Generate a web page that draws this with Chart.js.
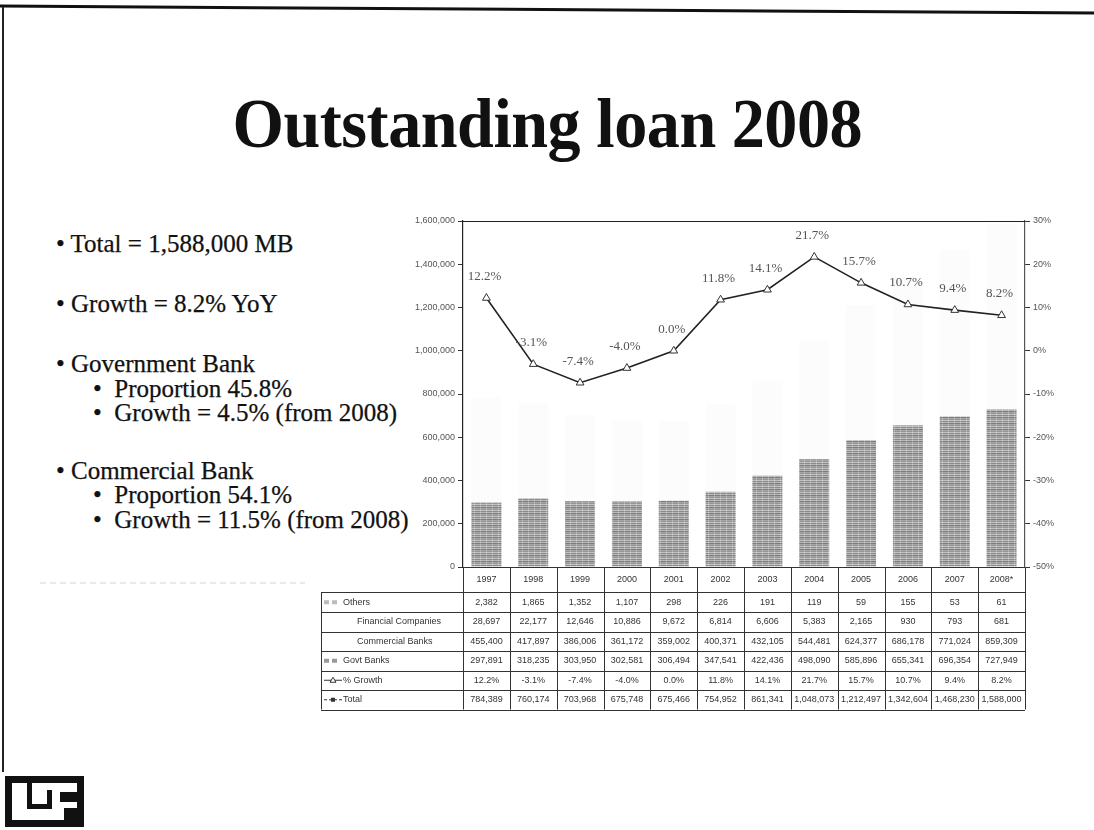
<!DOCTYPE html>
<html>
<head>
<meta charset="utf-8">
<script src="https://cdn.jsdelivr.net/npm/chart.js@4.4.1/dist/chart.umd.min.js"></script>
<style>
  body { margin: 0; width: 1094px; height: 830px; background: #fff; position: relative; overflow: hidden; font-family: 'Liberation Serif', 'Times New Roman', serif; }
  #deco { position: absolute; left: 0; top: 0; }
  h1 { position: absolute; left: 0; width: 1094px; top: 84px; margin: 0; text-align: center; font-size: 70px; font-weight: bold; color: #111; transform: scaleX(0.945); transform-origin: 553px 0; letter-spacing: -0.5px; }
  .pt { position: absolute; font-size: 25px; color: #111; white-space: nowrap; -webkit-text-stroke: 0.25px #111; }
  #wrap { position: absolute; left: 310px; top: 175px; width: 770px; height: 555px; }
</style>
</head>
<body>
<svg id="deco" width="1094" height="830">
  <line x1="0" y1="6" x2="1094" y2="13" stroke="#111" stroke-width="3"/>
  <line x1="3" y1="7" x2="3" y2="772" stroke="#222" stroke-width="2"/>
  <line x1="40" y1="583" x2="305" y2="583" stroke="#d4d4d4" stroke-width="1" stroke-dasharray="6 4"/>
  <!-- LF logo -->
  <rect x="5" y="776" width="79" height="51" fill="#111"/>
  <rect x="12" y="783" width="65" height="37" fill="#fff"/>
  <rect x="27" y="783" width="5" height="25" fill="#111"/>
  <rect x="27" y="804" width="24" height="5" fill="#111"/>
  <rect x="47" y="790" width="5" height="19" fill="#111"/>
  <rect x="60" y="792" width="17" height="10" fill="#111"/>
  <rect x="64" y="808" width="13" height="12" fill="#111"/>
</svg>

<h1>Outstanding loan 2008</h1>

<div class="pt" style="left:56px;top:230px">• Total = 1,588,000 MB</div>
<div class="pt" style="left:56px;top:290px">• Growth = 8.2% YoY</div>
<div class="pt" style="left:56px;top:350px">• Government Bank</div>
<div class="pt" style="left:93px;top:375px">•&nbsp; Proportion 45.8%</div>
<div class="pt" style="left:93px;top:399px">•&nbsp; Growth = 4.5% (from 2008)</div>
<div class="pt" style="left:56px;top:457px">• Commercial Bank</div>
<div class="pt" style="left:93px;top:481px">•&nbsp; Proportion 54.1%</div>
<div class="pt" style="left:93px;top:506px">•&nbsp; Growth = 11.5% (from 2008)</div>

<div id="wrap"><canvas id="loanChart"></canvas></div>

<script>
// Outstanding loans by lender type (million baht)
const years = ['1997', '1998', '1999', '2000', '2001', '2002', '2003', '2004', '2005', '2006', '2007', '2008*'];
const govtBanks = [297891, 318235, 303950, 302581, 306494, 347541, 422436, 498090, 585896, 655341, 696354, 727949];
const commercialBanks = [455400, 417897, 386006, 361172, 359002, 400371, 432105, 544481, 624377, 686178, 771024, 859309];
const financeCompanies = [28697, 22177, 12646, 10886, 9672, 6814, 6606, 5383, 2165, 930, 793, 681];
const others = [2382, 1865, 1352, 1107, 298, 226, 191, 119, 59, 155, 53, 61];
const growth = [12.2, -3.1, -7.4, -4.0, 0.0, 11.8, 14.1, 21.7, 15.7, 10.7, 9.4, 8.2];
const totals = [784389, 760174, 703968, 675748, 675466, 754952, 861341, 1048073, 1212497, 1342604, 1468230, 1588000];
const leftTicks = { min: 0, max: 1600000, step: 200000 };
const rightTicks = { min: -50, max: 30, step: 10 };

// streaky grey fill like the printed bars
function stripePattern() {
  const c = document.createElement('canvas');
  c.width = 6; c.height = 6;
  const g = c.getContext('2d');
  const rows = ['#8a8a8a', '#b9b9b9', '#7c7c7c', '#a6a6a6', '#959595', '#c2c2c2'];
  rows.forEach((col, i) => { g.fillStyle = col; g.fillRect(0, i, 6, 1); });
  g.fillStyle = 'rgba(255,255,255,0.25)';
  g.fillRect(2, 0, 1, 6);
  return g.createPattern(c, 'repeat');
}

const fmtNum = v => v.toLocaleString('en-US');
const fmtPct = v => v.toFixed(1) + '%';

const growthLabels = {
  id: 'growthLabels',
  afterDatasetsDraw(chart) {
    const meta = chart.getDatasetMeta(0);
    const ctx = chart.ctx;
    ctx.save();
    ctx.font = '13px "Liberation Serif", serif';
    ctx.fillStyle = '#555';
    ctx.textAlign = 'center';
    ctx.textBaseline = 'bottom';
    meta.data.forEach((p, i) => {
      ctx.fillText(fmtPct(growth[i]), p.x - 2, p.y - 15);
    });
    ctx.restore();
  }
};

const frameTop = {
  id: 'frameTop',
  afterDraw(chart) {
    const { ctx, chartArea: a } = chart;
    ctx.save();
    ctx.strokeStyle = '#222';
    ctx.lineWidth = 1.2;
    ctx.beginPath();
    ctx.moveTo(a.left, Math.round(a.top) + 0.5);
    ctx.lineTo(a.right, Math.round(a.top) + 0.5);
    ctx.stroke();
    ctx.restore();
  }
};

// data table under the plot, columns follow the category scale
const dataTable = {
  id: 'dataTable',
  afterDraw(chart) {
    const { ctx, chartArea: a, scales: { x } } = chart;
    const cw = (a.right - a.left) / years.length;
    const labelLeft = a.left - 142;
    const headTop = Math.round(a.bottom) + 0.5;
    const headH = 25, rowH = 19.5;
    const rows = [
      { name: 'Others', vals: others, fmt: fmtNum, key: 'hatch' },
      { name: 'Financial Companies', vals: financeCompanies, fmt: fmtNum, indent: true },
      { name: 'Commercial Banks', vals: commercialBanks, fmt: fmtNum, indent: true },
      { name: 'Govt Banks', vals: govtBanks, fmt: fmtNum, key: 'box' },
      { name: '% Growth', vals: growth, fmt: fmtPct, key: 'tri' },
      { name: 'Total', vals: totals, fmt: fmtNum, key: 'dot' }
    ];
    const bodyTop = headTop + headH;
    const bodyBottom = bodyTop + rows.length * rowH;

    ctx.save();
    ctx.strokeStyle = '#333';
    ctx.lineWidth = 1;
    ctx.font = '9px "Liberation Sans", Arial, sans-serif';
    ctx.fillStyle = '#333';
    ctx.textBaseline = 'middle';

    // grid of the table
    ctx.beginPath();
    ctx.moveTo(a.left, headTop); ctx.lineTo(a.right, headTop);
    ctx.moveTo(labelLeft, bodyTop); ctx.lineTo(a.right, bodyTop);
    for (let i = 0; i <= years.length; i++) {
      const xx = Math.round(a.left + i * cw) + 0.5;
      ctx.moveTo(xx, headTop); ctx.lineTo(xx, bodyBottom);
    }
    ctx.moveTo(labelLeft + 0.5, bodyTop); ctx.lineTo(labelLeft + 0.5, bodyBottom);
    rows.forEach((r, j) => {
      const yy = Math.round(bodyTop + (j + 1) * rowH) + 0.5;
      ctx.moveTo(labelLeft, yy); ctx.lineTo(a.right, yy);
    });
    ctx.stroke();

    ctx.textAlign = 'center';
    years.forEach((yr, i) => {
      ctx.fillText(yr, x.getPixelForValue(i), headTop + headH / 2);
    });

    rows.forEach((r, j) => {
      const cy = bodyTop + j * rowH + rowH / 2;
      r.vals.forEach((v, i) => {
        ctx.textAlign = 'center';
        ctx.fillText(r.fmt(v), x.getPixelForValue(i), cy);
      });
      ctx.textAlign = 'left';
      ctx.fillText(r.name, labelLeft + (r.indent ? 36 : 22), cy);
      // legend keys
      const kx = labelLeft + 3;
      if (r.key === 'hatch' || r.key === 'box') {
        ctx.fillStyle = r.key === 'box' ? '#999' : '#bbb';
        ctx.fillRect(kx, cy - 2, 5, 4);
        ctx.fillRect(kx + 8, cy - 2, 5, 4);
        ctx.fillStyle = '#333';
      } else if (r.key === 'tri') {
        ctx.beginPath();
        ctx.moveTo(kx, cy); ctx.lineTo(kx + 18, cy);
        ctx.stroke();
        ctx.fillStyle = '#fff';
        ctx.beginPath();
        ctx.moveTo(kx + 9, cy - 3); ctx.lineTo(kx + 12, cy + 2); ctx.lineTo(kx + 6, cy + 2); ctx.closePath();
        ctx.fill(); ctx.stroke();
        ctx.fillStyle = '#333';
      } else if (r.key === 'dot') {
        ctx.setLineDash([3, 2]);
        ctx.beginPath();
        ctx.moveTo(kx, cy); ctx.lineTo(kx + 18, cy);
        ctx.stroke();
        ctx.setLineDash([]);
        ctx.fillRect(kx + 7, cy - 2, 4, 4);
      }
    });
    ctx.restore();
  }
};

const faint = 'rgba(170,170,170,0.035)';

new Chart(document.getElementById('loanChart'), {
  data: {
    labels: years,
    datasets: [
      {
        type: 'line', label: '% Growth', data: growth, yAxisID: 'y1', order: 0,
        borderColor: '#222', borderWidth: 1.6, tension: 0,
        pointStyle: 'triangle', pointRadius: 4.5, pointBackgroundColor: '#fff',
        pointBorderColor: '#333', pointBorderWidth: 1
      },
      { type: 'bar', label: 'Govt Banks', data: govtBanks, yAxisID: 'y', order: 1, backgroundColor: stripePattern(), stack: 'loans' },
      { type: 'bar', label: 'Commercial Banks', data: commercialBanks, yAxisID: 'y', order: 1, backgroundColor: faint, stack: 'loans' },
      { type: 'bar', label: 'Financial Companies', data: financeCompanies, yAxisID: 'y', order: 1, backgroundColor: faint, stack: 'loans' },
      { type: 'bar', label: 'Others', data: others, yAxisID: 'y', order: 1, backgroundColor: faint, stack: 'loans' }
    ]
  },
  options: {
    responsive: true,
    maintainAspectRatio: false,
    animation: false,
    devicePixelRatio: 1,
    layout: { padding: { left: 0, right: 0, top: 46, bottom: 163 } },
    datasets: { bar: { barPercentage: 0.64, categoryPercentage: 1 } },
    plugins: { legend: { display: false }, tooltip: { enabled: false } },
    scales: {
      x: { display: false, stacked: true, offset: true },
      y: {
        position: 'left', stacked: true,
        min: leftTicks.min, max: leftTicks.max,
        afterFit(s) { s.width = 153; },
        ticks: { stepSize: leftTicks.step, padding: 3, color: '#555', font: { family: 'Liberation Sans', size: 9 }, callback: v => fmtNum(v) },
        grid: { drawOnChartArea: false, drawTicks: true, tickLength: 5, color: '#333' },
        border: { display: true, color: '#222', width: 1.2 }
      },
      y1: {
        position: 'right',
        min: rightTicks.min, max: rightTicks.max,
        afterFit(s) { s.width = 55; },
        ticks: { stepSize: rightTicks.step, padding: 3, color: '#555', font: { family: 'Liberation Sans', size: 9 }, callback: v => v + '%' },
        grid: { drawOnChartArea: false, drawTicks: true, tickLength: 5, color: '#333' },
        border: { display: true, color: '#555', width: 1.2 }
      }
    }
  },
  plugins: [growthLabels, frameTop, dataTable]
});
</script>
</body>
</html>
